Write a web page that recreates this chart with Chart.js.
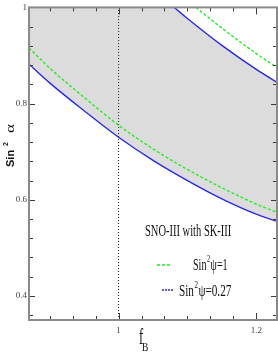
<!DOCTYPE html>
<html>
<head>
<meta charset="utf-8">
<script src="https://cdn.jsdelivr.net/npm/chart.js@4.4.1/dist/chart.umd.min.js"></script>
<style>
  html, body { margin: 0; padding: 0; background: #fff; }
  #wrap { width: 278px; height: 354px; }
</style>
</head>
<body>
<div id="wrap"><canvas id="chart" width="278" height="354"></canvas></div>
<script>
// values (f_B on x, sin^2 alpha on y)
const fLower = [0.87, 0.90, 0.95, 1.00, 1.05, 1.10, 1.15, 1.20, 1.23];
const blueLower = [0.882, 0.843, 0.785, 0.730, 0.682, 0.640, 0.602, 0.570, 0.555];
const greenLower = [0.916, 0.874, 0.813, 0.755, 0.706, 0.663, 0.625, 0.591, 0.574];

const fBlueUpper = [1.06, 1.08, 1.10, 1.15, 1.20, 1.23];
const blueUpper = [1.026, 1.001, 0.977, 0.921, 0.871, 0.844];

const fGreenUpper = [1.09, 1.11, 1.15, 1.20, 1.23];
const greenUpper = [1.027, 1.003, 0.957, 0.904, 0.875];

const fRef = 1.0;

const xTickValues = [1.0, 1.2];
const xTickLabels = ['1', '1.2'];
const yTickValues = [0.4, 0.6, 0.8, 1.0];
const yTickLabels = ['0.4', '0.6', '0.8', '1'];
const xMinorStep = 0.2 / 6;
const yMinorStep = 0.04;

const legendTitle = 'SNO-III with SK-III';
const legendGreen = ['Sin', '2', '\u03c8=1'];
const legendBlue = ['Sin', '2', '\u03c8=0.27'];

const toPoints = (xs, ys) => xs.map((x, i) => ({ x: x, y: ys[i] }));

function squeezed(ctx, text, x, y, font, sx) {
    ctx.save();
    ctx.translate(x, y);
    ctx.scale(sx, 1);
    ctx.font = font;
    ctx.textAlign = 'left';
    ctx.fillText(text, 0, 0);
    const w = ctx.measureText(text).width * sx;
    ctx.restore();
    return w;
}

function legendEntry(ctx, parts, x, y, sx) {
    let cx = x;
    cx += squeezed(ctx, parts[0], cx, y, '16px "Liberation Serif"', sx);
    const w2 = squeezed(ctx, parts[1], cx + 0.5, y - 8, '10px "Liberation Serif"', sx);
    cx += w2 + 1;
    squeezed(ctx, parts[2], cx, y, '16px "Liberation Serif"', sx);
}

const decorPlugin = {
    id: 'decor',
    afterDatasetsDraw(chart) {
        const { ctx, chartArea: a } = chart;
        const xs = chart.scales.x, ys = chart.scales.y;
        ctx.save();

        // inward tick marks on all four sides
        ctx.strokeStyle = '#3c3c3c';
        ctx.lineWidth = 1;
        ctx.beginPath();
        for (let k = -4; k <= 8; k++) {
            const v = 1 + k * xMinorStep;
            if (v < xs.min - 1e-9 || v > xs.max + 1e-9) continue;
            const px = Math.round(xs.getPixelForValue(v)) + 0.5;
            const len = xTickValues.some(t => Math.abs(t - v) < 1e-6) ? 7 : 4;
            ctx.moveTo(px, a.bottom); ctx.lineTo(px, a.bottom - len);
            ctx.moveTo(px, a.top); ctx.lineTo(px, a.top + len);
        }
        for (let k = -2; k <= 16; k++) {
            const v = 0.4 + k * yMinorStep;
            if (v < ys.min - 1e-9 || v > ys.max + 1e-9) continue;
            const py = Math.round(ys.getPixelForValue(v)) + 0.5;
            const len = yTickValues.some(t => Math.abs(t - v) < 1e-6) ? 6 : 4;
            ctx.moveTo(a.left, py); ctx.lineTo(a.left + len, py);
            ctx.moveTo(a.right, py); ctx.lineTo(a.right - len, py);
        }
        ctx.stroke();

        // frame
        ctx.strokeStyle = '#8a8a8a';
        ctx.lineWidth = 2;
        ctx.strokeRect(a.left, a.top, a.right - a.left, a.bottom - a.top);

        // legend
        ctx.fillStyle = '#111';
        ctx.textBaseline = 'alphabetic';
        squeezed(ctx, legendTitle, 145, 236, '17.5px "Liberation Serif"', 0.6);

        ctx.lineWidth = 1.6;
        ctx.strokeStyle = '#1fe61f';
        ctx.setLineDash([3, 2]);
        ctx.beginPath(); ctx.moveTo(157, 265); ctx.lineTo(172, 265); ctx.stroke();
        ctx.strokeStyle = '#2a2ae6';
        ctx.setLineDash([2, 1]);
        ctx.beginPath(); ctx.moveTo(162, 290); ctx.lineTo(173, 290); ctx.stroke();
        ctx.setLineDash([]);
        legendEntry(ctx, legendGreen, 193, 270, 0.63);
        legendEntry(ctx, legendBlue, 179, 296, 0.7);

        // x title f_B
        squeezed(ctx, 'f', 139, 344, '23px "Liberation Serif"', 0.55);
        squeezed(ctx, 'B', 142, 351, '13.5px "Liberation Serif"', 0.7);

        // y title Sin^2 alpha, running upward from y = 167
        ctx.save();
        ctx.translate(14, 167);
        ctx.rotate(-Math.PI / 2);
        ctx.textAlign = 'left';
        ctx.textBaseline = 'alphabetic';
        ctx.font = 'bold 11px "Liberation Sans"';
        ctx.fillText('Sin', 0, 0);
        const wSin = ctx.measureText('Sin').width;
        ctx.font = 'bold 7px "Liberation Sans"';
        ctx.fillText('2', wSin + 4, -6);
        ctx.save();
        ctx.translate(34, 0);
        ctx.scale(1, 0.7);
        ctx.font = '17px "Liberation Serif"';
        ctx.fillText('\u03b1', 0, 0);
        ctx.restore();
        ctx.restore();

        ctx.restore();
    }
};

new Chart(document.getElementById('chart'), {
    type: 'line',
    data: {
        datasets: [
            {
                // reference line f_B = 1
                data: [{ x: fRef, y: 0.35 }, { x: fRef, y: 1.0 }],
                borderColor: '#222',
                borderWidth: 1,
                borderDash: [1, 2],
                pointRadius: 0,
                fill: false,
                order: 0
            },
            {
                data: toPoints(fLower, greenLower),
                borderColor: '#22ee22',
                borderWidth: 1.4,
                borderDash: [3, 2],
                pointRadius: 0,
                cubicInterpolationMode: 'monotone',
                fill: false,
                order: 1
            },
            {
                data: toPoints(fGreenUpper, greenUpper),
                borderColor: '#22ee22',
                borderWidth: 1.4,
                borderDash: [3, 2],
                pointRadius: 0,
                cubicInterpolationMode: 'monotone',
                fill: false,
                order: 2
            },
            {
                data: toPoints(fBlueUpper, blueUpper),
                borderColor: '#2a2ae6',
                borderWidth: 1.4,
                pointRadius: 0,
                cubicInterpolationMode: 'monotone',
                fill: 'end',
                backgroundColor: '#ffffff',
                order: 3
            },
            {
                data: toPoints(fLower, blueLower),
                borderColor: '#2a2ae6',
                borderWidth: 1.4,
                pointRadius: 0,
                cubicInterpolationMode: 'monotone',
                fill: 'end',
                backgroundColor: '#dcdcdc',
                order: 4
            }
        ]
    },
    options: {
        responsive: false,
        devicePixelRatio: 1,
        animation: false,
        layout: { padding: { top: 5, right: 1, left: 0, bottom: 0 } },
        plugins: {
            legend: { display: false },
            tooltip: { enabled: false }
        },
        scales: {
            x: {
                type: 'linear',
                min: 0.87,
                max: 1.23,
                grid: { display: false, drawTicks: false },
                border: { display: false },
                afterBuildTicks: s => { s.ticks = xTickValues.map(v => ({ value: v })); },
                afterFit: s => { s.height = 34; },
                ticks: {
                    autoSkip: false,
                    maxRotation: 0,
                    padding: 5,
                    color: '#444',
                    font: { family: 'Liberation Serif', size: 9 },
                    callback: (v, i) => xTickLabels[i]
                }
            },
            y: {
                type: 'linear',
                min: 0.35,
                max: 1.0,
                grid: { display: false, drawTicks: false },
                border: { display: false },
                afterBuildTicks: s => { s.ticks = yTickValues.map(v => ({ value: v })); },
                afterFit: s => { s.width = 29; },
                ticks: {
                    autoSkip: false,
                    padding: 2,
                    color: '#444',
                    font: { family: 'Liberation Serif', size: 9 },
                    callback: (v, i) => yTickLabels[i]
                }
            }
        }
    },
    plugins: [decorPlugin]
});
</script>
</body>
</html>
